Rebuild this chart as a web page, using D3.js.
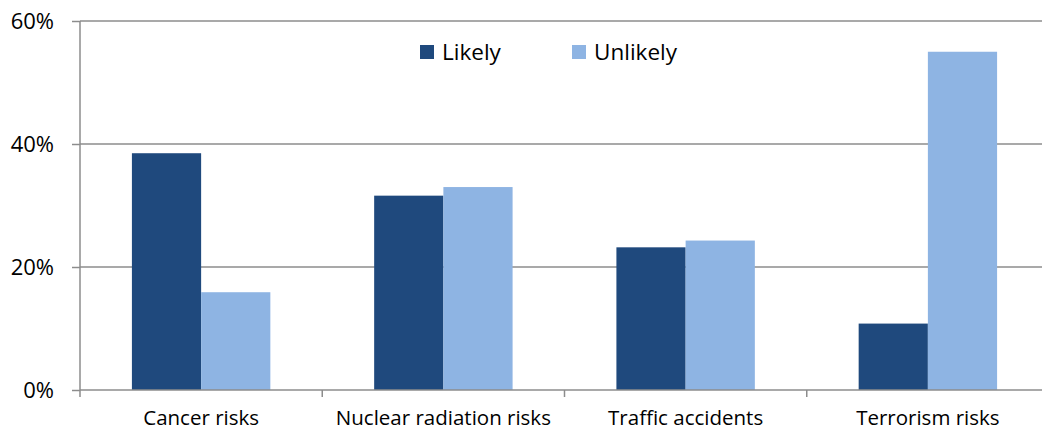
<!DOCTYPE html>
<html>
<head>
<meta charset="utf-8">
<script src="https://cdn.jsdelivr.net/npm/d3@7"></script>
<style>
  html, body { margin: 0; padding: 0; background: #fff; }
  svg { display: block; font-family: "Open Sans", "Liberation Sans", sans-serif; }
</style>
</head>
<body>
<svg id="chart" width="1042" height="431"></svg>
<script>
const categories = ["Cancer risks", "Nuclear radiation risks", "Traffic accidents", "Terrorism risks"];
const seriesNames = ["Likely", "Unlikely"];
const likelyValues = [0.385, 0.316, 0.232, 0.108];
const unlikelyValues = [0.159, 0.330, 0.243, 0.550];
const yTickValues = [0, 0.2, 0.4, 0.6];
const colors = ["#1F497D", "#8EB4E3"];

(function () {
const svg = d3.select("#chart");
const plotLeft = 80, plotRight = 1049, plotTop = 21, plotBottom = 390;

const x0 = d3.scaleBand().domain(categories).range([plotLeft, plotRight]).padding(0);
const x1 = d3.scaleBand().domain(seriesNames).range([0, x0.bandwidth()]).paddingInner(0).paddingOuter(0.75);
const y = d3.scaleLinear().domain([0, 0.6]).range([plotBottom, plotTop]);

const data = categories.map((c, i) => ({ cat: c, values: [
  { s: seriesNames[0], v: likelyValues[i] },
  { s: seriesNames[1], v: unlikelyValues[i] }
]}));

// gridlines
svg.append("g").selectAll("line").data(yTickValues.filter(d => d > 0)).join("line")
  .attr("x1", plotLeft).attr("x2", plotRight)
  .attr("y1", d => y(d)).attr("y2", d => y(d))
  .attr("stroke", "#8c8c8c").attr("stroke-width", 1.5);

// bars
const groups = svg.append("g").selectAll("g").data(data).join("g")
  .attr("transform", d => `translate(${x0(d.cat)},0)`);
groups.selectAll("rect").data(d => d.values).join("rect")
  .attr("x", d => x1(d.s))
  .attr("width", x1.bandwidth())
  .attr("y", d => y(d.v))
  .attr("height", d => y(0) - y(d.v))
  .attr("fill", (d, i) => colors[i]);

// y axis
const yAxis = d3.axisLeft(y).tickValues(yTickValues).tickFormat(d3.format(".0%")).tickSize(8).tickPadding(18);
const ya = svg.append("g").attr("transform", `translate(${plotLeft},0)`).call(yAxis);
ya.select(".domain").remove();
ya.selectAll(".tick line").attr("stroke", "#8c8c8c").attr("stroke-width", 1.5);
ya.selectAll(".tick text").attr("font-size", 22).attr("fill", "#000").style("font-family", "'Open Sans', sans-serif");
svg.append("line").attr("x1", plotLeft).attr("x2", plotLeft).attr("y1", plotTop).attr("y2", plotBottom + 7)
  .attr("stroke", "#8c8c8c").attr("stroke-width", 1.5);

// x axis
svg.append("line").attr("x1", plotLeft).attr("x2", plotRight).attr("y1", plotBottom).attr("y2", plotBottom)
  .attr("stroke", "#8c8c8c").attr("stroke-width", 1.5);
svg.append("g").selectAll("line").data(categories.slice(1)).join("line")
  .attr("x1", d => x0(d)).attr("x2", d => x0(d))
  .attr("y1", plotBottom).attr("y2", plotBottom + 7)
  .attr("stroke", "#8c8c8c").attr("stroke-width", 1.5);
svg.append("g").selectAll("text").data(categories).join("text")
  .attr("x", d => x0(d) + x0.bandwidth() / 2)
  .attr("y", 425)
  .attr("text-anchor", "middle")
  .attr("font-size", 20.5)
  .attr("fill", "#000")
  .text(d => d);

// legend
const legendX = [420, 572];
const lg = svg.append("g").selectAll("g").data(seriesNames).join("g")
  .attr("transform", (d, i) => `translate(${legendX[i]},45)`);
lg.append("rect").attr("width", 14).attr("height", 14).attr("fill", (d, i) => colors[i]);
lg.append("text").attr("x", 22).attr("y", 14.5).attr("font-size", 22.5).attr("fill", "#000").text(d => d);
})();
</script>
</body>
</html>
